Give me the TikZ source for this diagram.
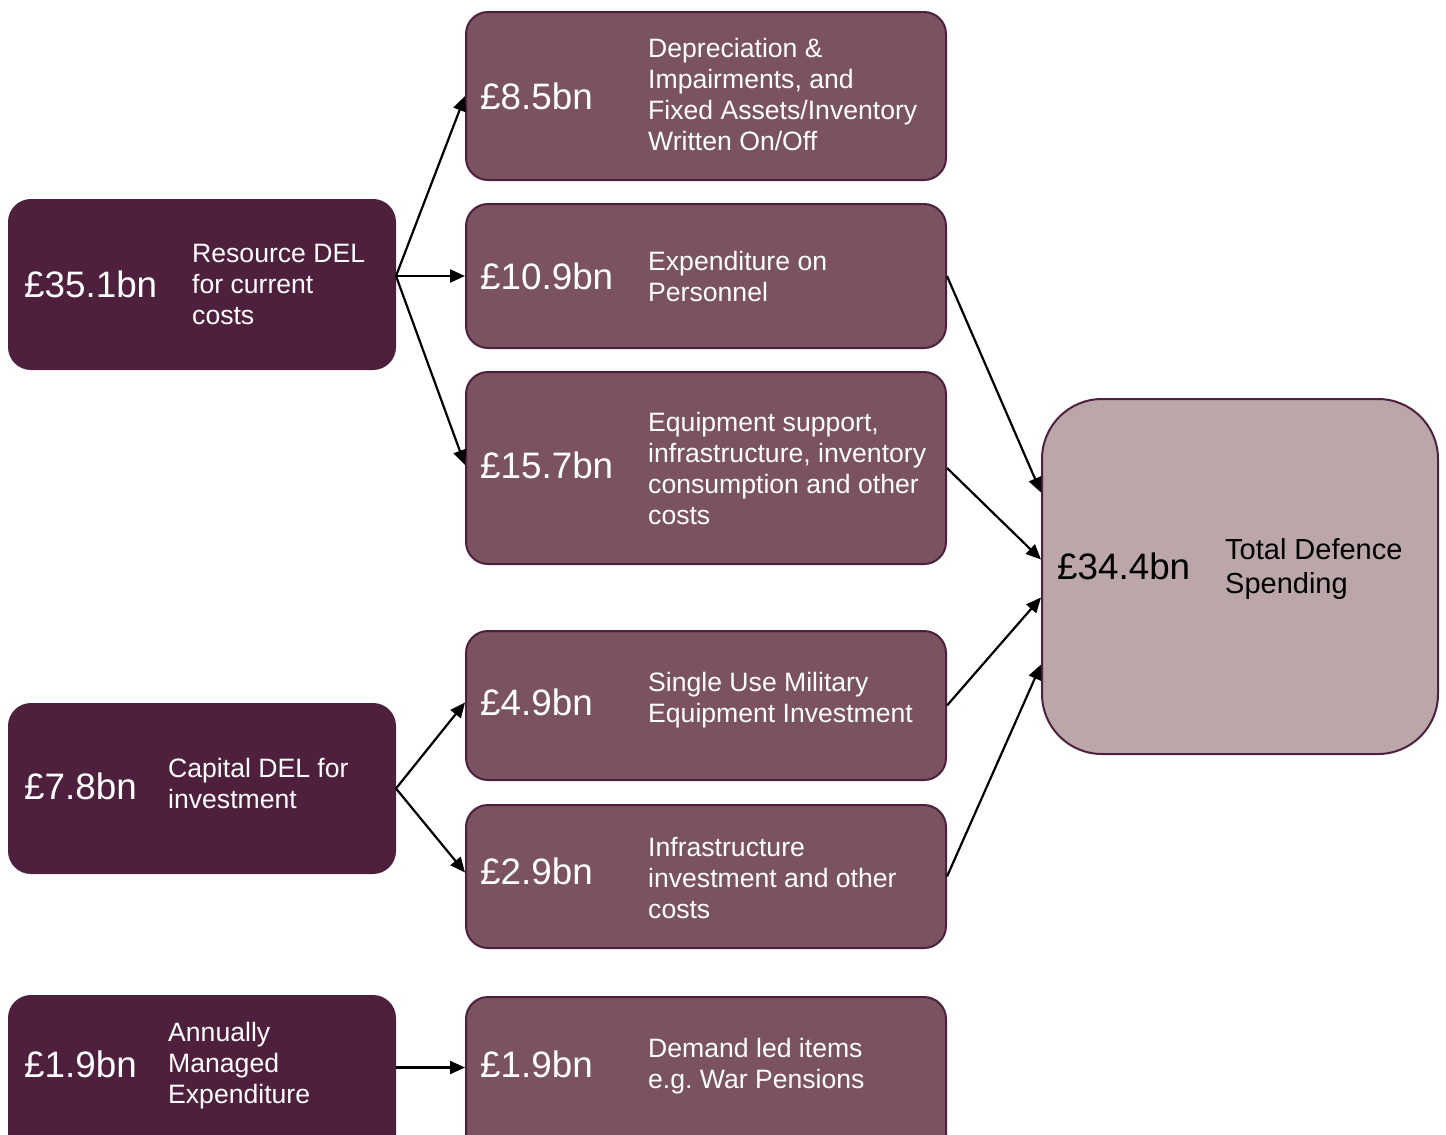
\documentclass[tikz,border=0pt]{standalone}
\usepackage{fontspec}
\setmainfont{Liberation Sans}
\usetikzlibrary{positioning,arrows.meta}
\definecolor{plumdark}{HTML}{4F203D}
\definecolor{plummid}{HTML}{7A5260}
\definecolor{plumpale}{HTML}{BBA6AA}
\begin{document}
\begin{tikzpicture}[x=1pt,y=-1pt,
  box/.style={draw=plumdark,line width=2pt,rounded corners=22pt,inner sep=0pt,minimum width=#1},
  src/.style={box=386pt,fill=plumdark},
  item/.style={box=480pt,fill=plummid},
  amt/.style={inner sep=0pt,text=white,font=\fontsize{36.8}{40}\selectfont},
  desc/.style={inner sep=0pt,text=white,align=left,font=\fontsize{26.6}{31}\selectfont},
  arr/.style={-{Triangle[length=15pt,width=13pt]},line width=2.2pt}]
\useasboundingbox (0,0) rectangle (1446,1135);
\node[src,minimum height=169pt] (res) at (202,284.5) {};
\node[src,minimum height=169pt] (cap) at (202,788.5) {};
\node[src,minimum height=169pt] (ame) at (202,1080.5) {};
\node[item,minimum height=168pt] (dep) at (706,96) {};
\node[item,minimum height=144pt] (pers) at (706,276) {};
\node[item,minimum height=192pt] (equip) at (706,468) {};
\node[item,minimum height=149pt] (sume) at (706,705.5) {};
\node[item,minimum height=143pt] (infra) at (706,876.5) {};
\node[item,minimum height=169pt] (dem) at (706,1081.5) {};
\node[box=396pt,fill=plumpale,minimum height=355pt,rounded corners=60pt] (tot) at (1240,576.5) {};
\node[amt,right=16pt of res.west] (resamt) {£35.1bn};
\node[desc,right=184pt of res.west] (resdesc) {Resource DEL\\for current\\costs};
\node[amt,right=16pt of cap.west,yshift=2pt] (capamt) {£7.8bn};
\node[desc,right=160pt of cap.west,yshift=5pt] (capdesc) {Capital DEL for\\investment};
\node[amt,right=16pt of ame.west,yshift=16pt] (ameamt) {£1.9bn};
\node[desc,right=160pt of ame.west,yshift=15pt] (amedesc) {Annually\\Managed\\Expenditure};
\node[amt,right=15pt of dep.west] (depamt) {£8.5bn};
\node[desc,right=183pt of dep.west,yshift=2pt] (depdesc) {Depreciation \&\\Impairments, and\\Fixed Assets/Inventory\\Written On/Off};
\node[amt,right=15pt of pers.west] (persamt) {£10.9bn};
\node[desc,right=183pt of pers.west] (persdesc) {Expenditure on\\Personnel};
\node[amt,right=15pt of equip.west,yshift=3pt] (equipamt) {£15.7bn};
\node[desc,right=183pt of equip.west] (equipdesc) {Equipment support,\\infrastructure, inventory\\consumption and other\\costs};
\node[amt,right=15pt of sume.west,yshift=3pt] (sumeamt) {£4.9bn};
\node[desc,right=183pt of sume.west,yshift=5pt] (sumedesc) {Single Use Military\\Equipment Investment};
\node[amt,right=15pt of infra.west,yshift=5pt] (infraamt) {£2.9bn};
\node[desc,right=183pt of infra.west,yshift=-1pt] (infradesc) {Infrastructure\\investment and other\\costs};
\node[amt,right=15pt of dem.west,yshift=17pt] (demamt) {£1.9bn};
\node[desc,right=183pt of dem.west,yshift=15pt] (demdesc) {Demand led items\\e.g.\ War Pensions};
\node[amt,text=black,right=16pt of tot.west,yshift=10pt] (totamt) {£34.4bn};
\node[desc,text=black,right=184pt of tot.west,yshift=8pt,font=\fontsize{29}{34}\selectfont] (totdesc) {Total Defence\\Spending};
\coordinate (rs) at (res.east |- pers.west);
\coordinate (am) at ([yshift=13pt]ame.east);
\draw[arr] (rs) -- (dep.west);
\draw[arr] (rs) -- (pers.west);
\draw[arr] (rs) -- ([yshift=3pt]equip.west);
\draw[arr] (cap.east) -- ([yshift=3pt]sume.west);
\draw[arr] (cap.east) -- ([yshift=4pt]infra.west);
\draw[arr] (am) -- (am -| dem.west);
\draw[arr] (pers.east) -- ([yshift=84pt]tot.west);
\draw[arr] (equip.east) -- ([yshift=17pt]tot.west);
\draw[arr] (sume.east) -- ([yshift=-21pt]tot.west);
\draw[arr] (infra.east) -- ([yshift=-88pt]tot.west);
\end{tikzpicture}
\end{document}
